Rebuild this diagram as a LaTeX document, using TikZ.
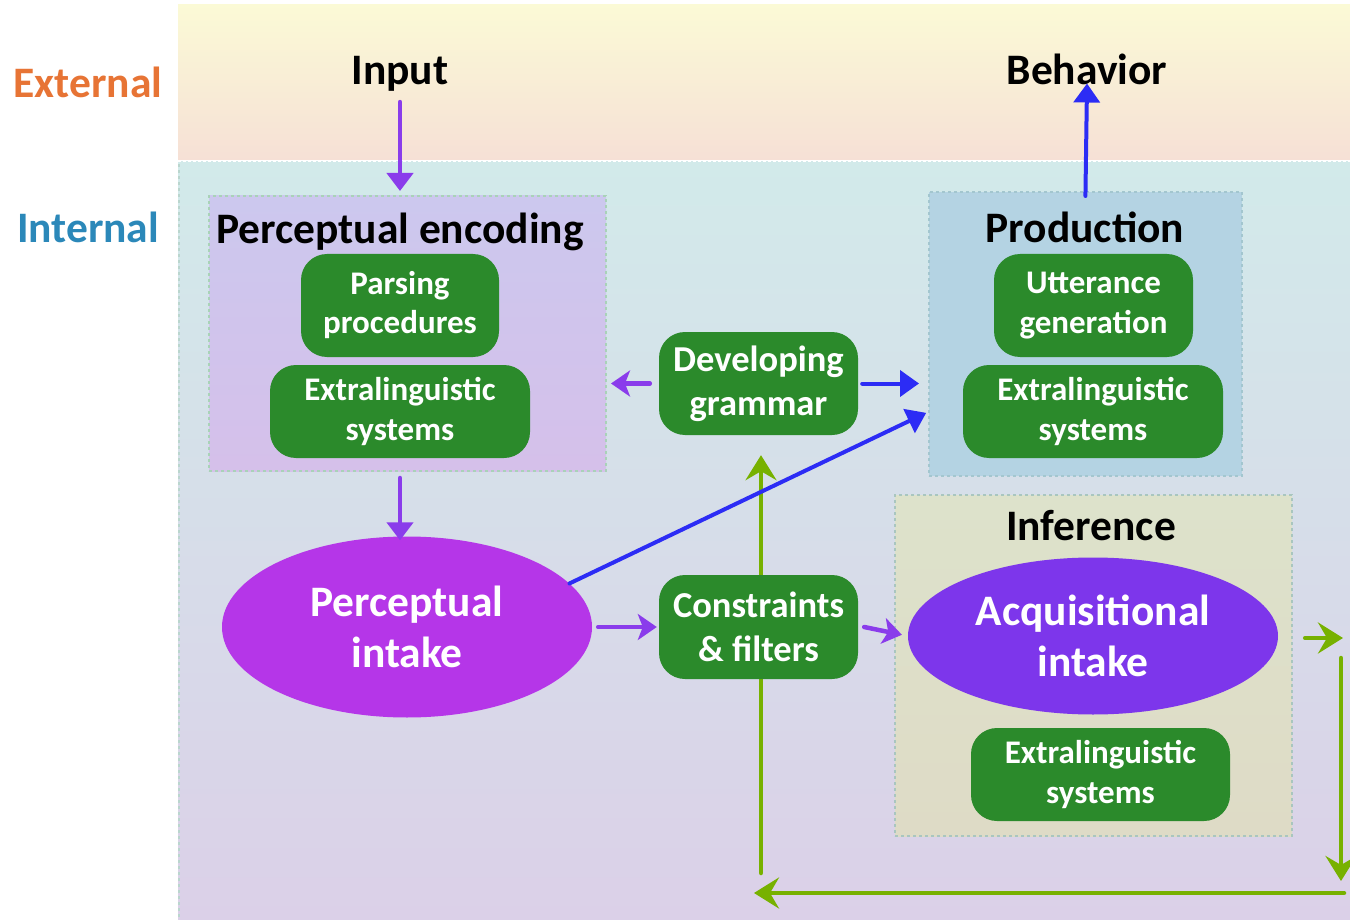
\documentclass[tikz,border=0pt]{standalone}
\usepackage{fontspec}
\setmainfont{Carlito}
\usetikzlibrary{arrows.meta,shapes.geometric}
\pgfdeclarelayer{back}
\pgfdeclarelayer{mid}
\pgfsetlayers{back,mid,main}
\definecolor{extTop}{HTML}{FBFAD6}
\definecolor{extBot}{HTML}{F6E0D6}
\definecolor{intTop}{HTML}{D2EAEA}
\definecolor{intBot}{HTML}{DBD0E8}
\definecolor{bandedge}{HTML}{BAD6CE}
\definecolor{orangeLbl}{HTML}{E77435}
\definecolor{blueLbl}{HTML}{2B88B9}
\definecolor{boxgreen}{HTML}{2B8A2B}
\definecolor{encTop}{HTML}{CCC8EE}
\definecolor{encBot}{HTML}{D5C0EA}
\definecolor{encEdge}{HTML}{A9D2B8}
\definecolor{prodFill}{HTML}{B4D3E3}
\definecolor{prodEdge}{HTML}{A3C6CF}
\definecolor{infTop}{HTML}{DDE2CB}
\definecolor{infBot}{HTML}{DEDBC6}
\definecolor{infEdge}{HTML}{A9C6BF}
\definecolor{pIntake}{HTML}{B536E8}
\definecolor{aIntake}{HTML}{7D36EB}
\definecolor{arrPurple}{HTML}{8A3CEB}
\definecolor{arrBlue}{HTML}{2C2CF5}
\definecolor{arrGreen}{HTML}{77B100}
\begin{document}
\begin{tikzpicture}[x=1pt,y=-1pt,
  ttl/.style={font=\bfseries\fontsize{43.5}{50}\selectfont, inner sep=0pt, anchor=base},
  gbox/.style={fill=boxgreen, rounded corners=26pt, text=white, align=center, inner sep=0pt,
     font=\bfseries\fontsize{33}{40}\selectfont},
  gboxbig/.style={gbox, font=\bfseries\fontsize{36.5}{44}\selectfont},
  intake/.style={ellipse, inner sep=0pt, text=white, align=center,
     font=\bfseries\fontsize{43.5}{51}\selectfont},
  region/.style={line width=2pt, dash pattern=on 3pt off 3pt, inner sep=0pt},
  parr/.style={draw=arrPurple, line width=4.5pt, line cap=round,
     -{Triangle[length=18pt,width=26pt]}},
  parrl/.style={draw=arrPurple, line width=4.5pt, line cap=round,
     -{Stealth[length=19pt,width=26pt,inset=5pt]}},
  barr/.style={draw=arrBlue, line width=4pt, line cap=round,
     -{Triangle[length=19pt,width=26pt]}},
  garr/.style={draw=arrGreen, line width=4.5pt, line cap=round,
     -{Stealth[length=25pt,width=31pt,inset=9pt]}}
]
\useasboundingbox (0,0) rectangle (1350,920);

\begin{pgfonlayer}{back}
  \shade[top color=extTop, bottom color=extBot] (178,5) rectangle (1350,160);
  \shade[top color=intTop, bottom color=intBot] (178,162) rectangle (1350,920);
  \draw[white, line width=2pt, dash pattern=on 3pt off 2pt] (178,161) -- (1350,161);
  \draw[bandedge, line width=2pt, dash pattern=on 3pt off 3pt] (179,164) -- (179,920);
\end{pgfonlayer}

% side labels
\node[ttl, text=orangeLbl] (external) at (88,98) {External};
\node[ttl, text=blueLbl] (internal) at (88,243) {Internal};

% external titles
\node[ttl] (input) at (400,85) {Input};
\node[ttl] (behavior) at (1087,85) {Behavior};

% regions
\node[region, draw=encEdge, top color=encTop, bottom color=encBot,
      minimum width=397pt, minimum height=275pt] (percenc) at (407.5,333.5) {};
\node[region, draw=prodEdge, fill=prodFill,
      minimum width=313pt, minimum height=284pt] (prodbox) at (1085.5,334) {};
\node[region, draw=infEdge, top color=infTop, bottom color=infBot,
      minimum width=397pt, minimum height=341pt] (infbox) at (1093.5,665.5) {};

\node[ttl] (encT) at (400,244) {Perceptual encoding};
\node[ttl] (prodT) at (1085,243) {Production};
\node[ttl] (infT) at (1091,540) {Inference};

% green boxes
\node[gbox, minimum width=198pt, minimum height=103pt] (parsing) at (400,305.5) {Parsing\\[-1pt]procedures};
\node[gbox, minimum width=260pt, minimum height=93pt] (extraL) at (400,411.5) {Extralinguistic\\systems};
\node[gboxbig, minimum width=199pt, minimum height=103pt] (devgram) at (758.5,383.5) {Developing\\grammar};
\node[gbox, minimum width=199pt, minimum height=103pt] (utter) at (1093.5,305.5) {Utterance\\generation};
\node[gbox, minimum width=260pt, minimum height=93pt] (extraP) at (1093,411.5) {Extralinguistic\\systems};
\node[gboxbig, minimum width=199pt, minimum height=104pt] (constr) at (758.5,627) {Constraints\\\& filters};
\node[gbox, minimum width=259pt, minimum height=93pt] (extraI) at (1100.5,774.5) {Extralinguistic\\systems};

% intakes
\node[intake, fill=pIntake, minimum width=370pt, minimum height=181pt] (pintake) at (407,627) {Perceptual\\intake};
\node[intake, fill=aIntake, minimum width=370pt, minimum height=157pt] (aintake) at (1093,636) {Acquisitional\\intake};

% purple / blue arrows
\draw[parr, shorten <=10pt, shorten >=4pt] (input.south) -- (percenc.north -| input);
\draw[parr, shorten <=6pt, shorten >=-4pt] (percenc.south -| parsing) -- (pintake.north -| parsing);
\draw[parrl, shorten >=4pt] ([xshift=-9pt]devgram.west) -- (percenc.east |- devgram);
\draw[barr, shorten >=9pt] ([xshift=4pt]devgram.east) -- (prodbox.west |- devgram);
\draw[barr, shorten >=2pt] (pintake.15.6) -- ([yshift=-78pt]prodbox.west);
\draw[barr, shorten <=-5pt, shorten >=-2pt] (prodbox.north) -- (behavior.south);
\draw[parrl, shorten >=2pt] ([xshift=6pt]pintake.east) -- (constr.west);
\draw[parrl, shorten >=6pt] ([xshift=6pt]constr.east) -- (aintake.west);

% green feedback loop (behind the boxes)
\coordinate (gtr) at (1341,638);
\coordinate (gbr) at (1341,893);
\coordinate (gbl) at (761,893);
\begin{pgfonlayer}{mid}
  \draw[garr] ([xshift=27pt]aintake.east |- gtr) -- ([xshift=2pt]gtr);
  \draw[garr] ([yshift=-20pt]gtr) -- ([yshift=12pt]gbr);
  \draw[garr] ([xshift=3pt]gbr) -- ([xshift=-7pt]gbl);
  \draw[garr, shorten >=20pt] ([yshift=20pt]gbl) -- (devgram.south -| gbl);
\end{pgfonlayer}
\end{tikzpicture}
\end{document}
